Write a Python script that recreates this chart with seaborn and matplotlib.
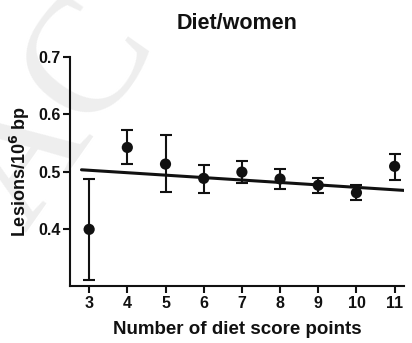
import matplotlib
matplotlib.use("Agg")
import matplotlib.pyplot as plt
import seaborn as sns
import pandas as pd

score = [3, 4, 5, 6, 7, 8, 9, 10, 11]
mean = [0.399, 0.542, 0.513, 0.488, 0.499, 0.487, 0.476, 0.463, 0.509]
upper = [0.487, 0.572, 0.563, 0.512, 0.518, 0.505, 0.488, 0.477, 0.531]
lower = [0.311, 0.513, 0.465, 0.463, 0.480, 0.470, 0.462, 0.450, 0.485]
fit_x = [2.8, 11.25]
fit_y = [0.503, 0.467]

sns.set_theme(style="ticks")
plt.rcParams['font.family'] = ['Liberation Sans', 'DejaVu Sans']

df = pd.DataFrame({"score": score, "mean": mean})
fit = pd.DataFrame({"x": fit_x, "y": fit_y})

fig = plt.figure(figsize=(4.12, 3.43), dpi=100)
ax = fig.add_axes([0.170, 0.166, 0.811, 0.668])
ax.set_zorder(1)
ax.patch.set_alpha(0)

# faint watermark behind everything
fig.text(0.06, 0.32, "AC", rotation=55, rotation_mode="anchor", fontsize=120,
         family="Liberation Serif", color="#eeeeee", zorder=-5, ha="left", va="baseline")

yerr = [[m - l for m, l in zip(mean, lower)], [u - m for m, u in zip(mean, upper)]]
ax.errorbar(score, mean, yerr=yerr, fmt="none", ecolor="#111111", elinewidth=1.5,
            capsize=4.5, capthick=1.5, zorder=2)
sns.lineplot(data=fit, x="x", y="y", color="#111111", linewidth=2.2, ax=ax, zorder=3)
sns.scatterplot(data=df, x="score", y="mean", color="#111111", s=65, edgecolor="none",
                ax=ax, zorder=4)

ax.set_xlim(2.5, 11.25)
ax.set_ylim(0.30, 0.70)
ax.set_xticks(score)
ax.set_yticks([0.4, 0.5, 0.6, 0.7])
ax.set_yticklabels(["0.4", "0.5", "0.6", "0.7"])
sns.despine(ax=ax)
for s in ["left", "bottom"]:
    ax.spines[s].set_linewidth(1.5)
    ax.spines[s].set_color("#111111")
ax.tick_params(axis="both", direction="out", length=5, width=1.5, color="#111111",
               labelsize=11.5, labelcolor="#111111", pad=2)
for lab in ax.get_xticklabels() + ax.get_yticklabels():
    lab.set_fontweight("bold")

ax.set_xlabel("Number of diet score points", fontsize=13.5, fontweight="bold", color="#111111", labelpad=7)
ax.set_ylabel("Lesions/10$^{\\mathbf{6}}$ bp", fontsize=13, fontweight="bold", color="#111111", labelpad=4)
ax.set_title("Diet/women", fontsize=15.5, fontweight="bold", color="#111111", pad=20)

fig.savefig("out.png", dpi=100)
